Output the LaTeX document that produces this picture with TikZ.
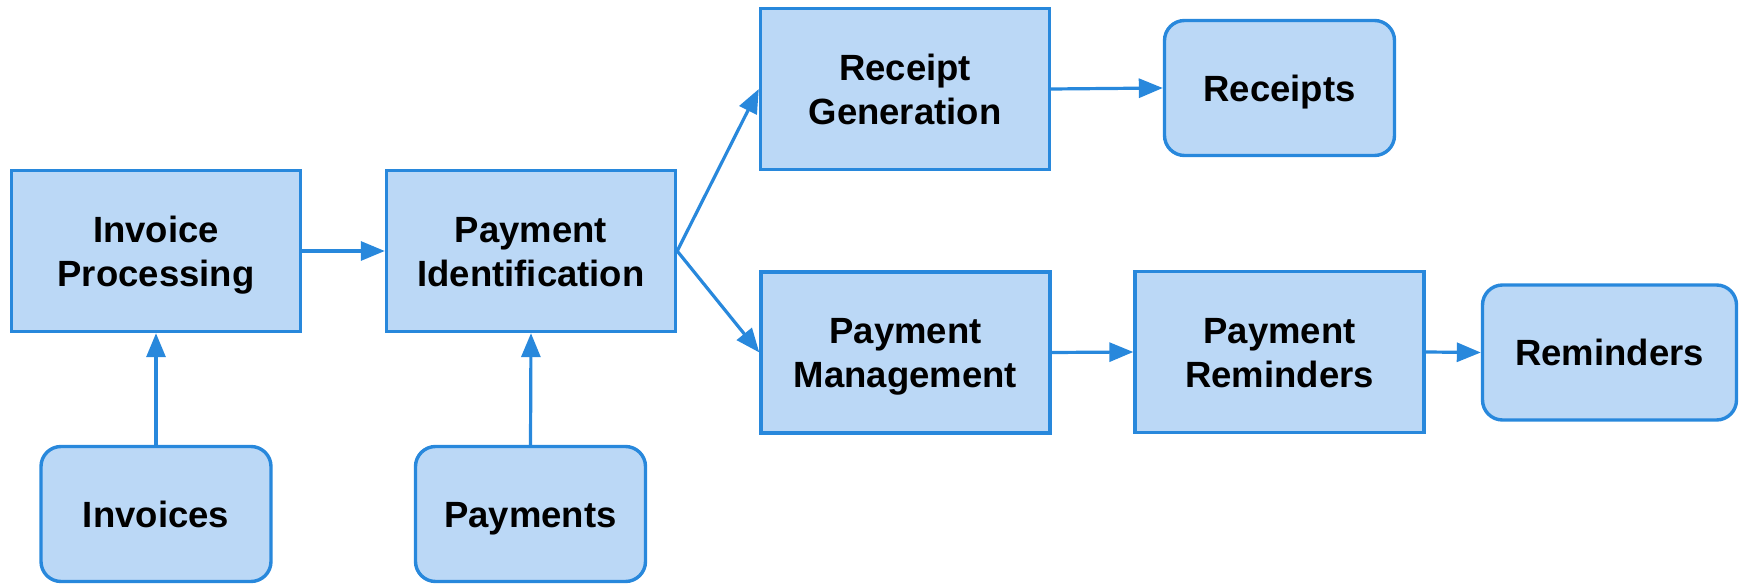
\documentclass[tikz,border=0pt]{standalone}
\usepackage{fontspec}
\setmainfont{Liberation Sans}
\usetikzlibrary{arrows.meta}
\definecolor{boxfill}{RGB}{187,216,246}
\definecolor{boxline}{RGB}{40,136,220}
\tikzset{
  base/.style={draw=boxline, fill=boxfill, line width=3.4pt, align=center,
    font=\fontsize{36.5}{44}\selectfont\bfseries, inner sep=0pt, text depth=0pt},
  procbox/.style={base, minimum width=289pt, minimum height=161pt, text height=70.2pt},
  databox/.style={base, rounded corners=20pt, minimum width=230pt, minimum height=135pt, text height=26.2pt},
  conn/.style={draw=boxline, line width=3.2pt, -{Triangle[length=24pt,width=19pt]}}
}
\begin{document}
\begin{tikzpicture}[x=1pt,y=-1pt]
\useasboundingbox (0,0) rectangle (1743,585);
\node[procbox] (ip) at (156,251) {Invoice\\Processing};
\node[procbox] (pi) at (531,251) {Payment\\Identification};
\node[procbox] (rg) at (905,89) {Receipt\\Generation};
\node[procbox] (pm) at (905.5,352.5) {Payment\\Management};
\node[procbox] (pr) at (1279.5,352) {Payment\\Reminders};
\node[databox] (rc) at (1279.5,88) {Receipts};
\node[databox, minimum width=254pt] (rm) at (1609.5,352.5) {Reminders};
\node[databox] (inv) at (156,514) {Invoices};
\node[databox] (pay) at (530.5,514) {Payments};
\draw[conn] (ip.east) -- (pi.west);
\draw[conn] (inv.north) -- (ip.south);
\draw[conn] (pay.north) -- (pi.south);
\draw[conn] (pi.east) -- (rg.west);
\draw[conn] (pi.east) -- (pm.west);
\draw[conn] (rg.east) -- (rc.west);
\draw[conn] (pm.east) -- (pr.west);
\draw[conn] (pr.east) -- (rm.west);
\end{tikzpicture}
\end{document}
